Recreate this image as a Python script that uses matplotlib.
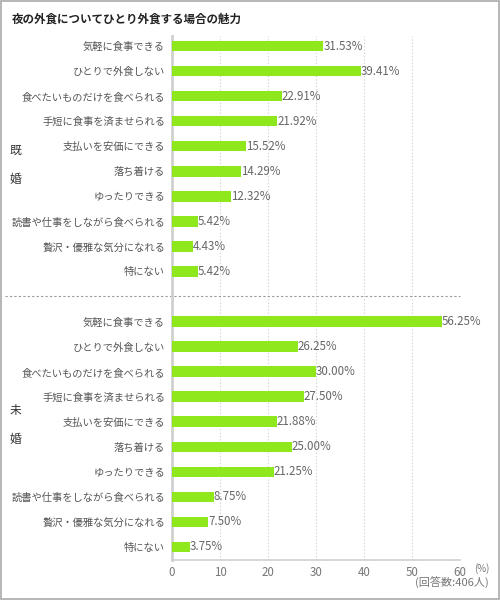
import matplotlib
matplotlib.use("Agg")
import matplotlib.pyplot as plt
from matplotlib.patches import Rectangle

plt.rcParams['font.family'] = ['Noto Sans CJK JP', 'DejaVu Sans']

title = "夜の外食についてひとり外食する場合の魅力"
categories = ["気軽に食事できる", "ひとりで外食しない", "食べたいものだけを食べられる",
              "手短に食事を済ませられる", "支払いを安価にできる", "落ち着ける",
              "ゆったりできる", "読書や仕事をしながら食べられる", "贅沢・優雅な気分になれる", "特にない"]
married = [31.53, 39.41, 22.91, 21.92, 15.52, 14.29, 12.32, 5.42, 4.43, 5.42]
unmarried = [56.25, 26.25, 30.00, 27.50, 21.88, 25.00, 21.25, 8.75, 7.50, 3.75]
groups = ["既\n\n婚", "未\n\n婚"]
xticks = [0, 10, 20, 30, 40, 50, 60]
note = "(回答数:406人)"

bar_color = "#8fe81c"
text_color = "#555555"

fig = plt.figure(figsize=(5, 6), dpi=100)
fig.patches.append(Rectangle((0.001, 0.001), 0.997, 0.997, transform=fig.transFigure,
                             fill=False, edgecolor="#aaaaaa", linewidth=1.2))
ax = fig.add_axes([0.344, 0.0667, 0.576, 0.8733])

n = len(categories)
ypos_m = list(range(n))
ypos_u = [i + n + 1 for i in range(n)]
ax.barh(ypos_m, married, height=0.42, color=bar_color, zorder=3)
ax.barh(ypos_u, unmarried, height=0.42, color=bar_color, zorder=3)

for y, v in zip(ypos_m + ypos_u, married + unmarried):
    ax.text(v, y, f"{v:.2f}%", va="center", ha="left", fontsize=8.3, color="#666666", zorder=4)

ax.set_yticks(ypos_m + ypos_u)
ax.set_yticklabels(categories + categories, fontsize=7.4, color=text_color)
ax.tick_params(axis="y", length=0, pad=5)
ax.set_xticks(xticks)
ax.set_xticklabels([str(t) for t in xticks], fontsize=8.3, color="#777777")
ax.tick_params(axis="x", length=0, pad=4)
ax.set_xlim(0, 60)
ax.set_ylim(20.52, -0.4)

for t in xticks[1:]:
    ax.axvline(t, color="#cccccc", linestyle=(0, (1, 2)), linewidth=0.8, zorder=1)

for s in ["top", "right"]:
    ax.spines[s].set_visible(False)
ax.spines["left"].set_color("#d0d0d0")
ax.spines["left"].set_linewidth(2)
ax.spines["bottom"].set_color("#d0d0d0")
ax.spines["bottom"].set_linewidth(1.2)

# separator dashed line
sep_y = n
ax.plot([-0.58, 1.0], [sep_y, sep_y], transform=ax.get_yaxis_transform(), color="#999999",
        linestyle=(0, (2, 2)), linewidth=0.8, clip_on=False, zorder=2)

fig.text(0.03, 0.725, groups[0], fontsize=8.5, color="#333333",
         ha="center", va="center", linespacing=1.15)
fig.text(0.03, 0.292, groups[1], fontsize=8.5, color="#333333",
         ha="center", va="center", linespacing=1.15)

fig.text(0.024, 0.968, title, fontsize=8.3, weight="bold", color="#222222", ha="left", va="center")
fig.text(0.963, 0.052, "(%)", fontsize=7, color="#777777", ha="center", va="center")
fig.text(0.978, 0.028, note, fontsize=8, color="#777777", ha="right", va="center")

fig.savefig("out.png", dpi=100)
